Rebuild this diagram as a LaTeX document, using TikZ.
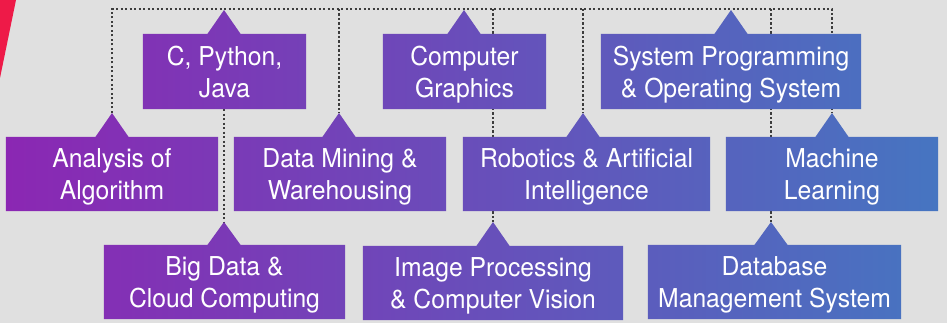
\documentclass[tikz,border=0pt]{standalone}
\usepackage{fontspec}
\setmainfont{TeX Gyre Heros}[FakeStretch=0.95]
\usetikzlibrary{calc}
\definecolor{bggray}{HTML}{E0E0E0}
\definecolor{accred}{HTML}{EE1A48}
\definecolor{dotgray}{HTML}{3C3C3C}
\definecolor{gl}{HTML}{8B27B3}
\definecolor{gr}{HTML}{4675C1}
\pgfdeclarelayer{back}
\pgfdeclarelayer{mid}
\pgfsetlayers{back,mid,main}
\begin{document}
\begin{tikzpicture}[x=1pt,y=-1pt,
  box/.style={rectangle, inner sep=0pt, text=white, align=center,
    font=\fontsize{26}{32}\selectfont, text depth=0pt},
  conn/.style={draw=dotgray, line width=2.3pt, dash pattern=on 2.3pt off 2.2pt}]
\useasboundingbox (0,0) rectangle (947,323);
% boxes
\node[box, minimum width=163pt, minimum height=75pt] (cpj) at (224.5,71.5) {C, Python,\\Java};
\node[box, minimum width=163pt, minimum height=75pt] (cg) at (464.5,71.5) {Computer\\Graphics};
\node[box, minimum width=260pt, minimum height=75pt] (sp) at (731,71.5) {System Programming\\\& Operating System};
\node[box, minimum width=212pt, minimum height=74pt] (aa) at (112,174) {Analysis of\\Algorithm};
\node[box, minimum width=212pt, minimum height=74pt] (dm) at (340,174) {Data Mining \&\\Warehousing};
\node[box, minimum width=247pt, minimum height=74pt] (ra) at (586.5,174) {Robotics \& Artificial\\Intelligence};
\node[box, minimum width=212pt, minimum height=74pt] (ml) at (832,174) {Machine\\Learning};
\node[box, minimum width=241pt, minimum height=74pt] (bd) at (224.5,282) {Big Data \&\\Cloud Computing};
\node[box, minimum width=260pt, minimum height=74pt] (ip) at (493,283) {Image Processing\\\& Computer Vision};
\node[box, minimum width=253pt, minimum height=74pt] (db) at (774.5,282) {Database\\Management System};
% apex points of the pointers
\coordinate (cpj-t) at (224,10);
\coordinate (cg-t) at (464,10);
\coordinate (sp-t) at (731,10);
\coordinate (aa-t) at (112,113);
\coordinate (dm-t) at (339,113);
\coordinate (ra-t) at (583,113);
\coordinate (ml-t) at (832,113);
\coordinate (bd-t) at (224,222);
\coordinate (ip-t) at (493,222);
\coordinate (db-t) at (771,222);
\coordinate (top) at (0,9);
\begin{pgfonlayer}{back}
\fill[bggray] (0,0) rectangle (947,323);
\fill[accred] (0,0) -- (16,0) -- (0,78) -- cycle;
\draw[conn] (aa-t) -- (aa-t |- top) -- (ml-t |- top) -- (ml-t);
\draw[conn] (dm-t |- top) -- (dm-t);
\draw[conn] (ra-t |- top) -- (ra-t);
\draw[conn] (ip-t |- top) -- (ip-t);
\draw[conn] (db-t |- top) -- (db-t);
\draw[conn] (cpj.south -| bd-t) -- (bd-t);
\end{pgfonlayer}
\begin{pgfonlayer}{mid}
\shade[left color=gl, right color=gr]
  \foreach \n in {cpj,cg,sp,aa,dm,ra,ml,bd,ip,db} {
    (\n.south west) -- (\n.south east) -- (\n.north east)
    -- ($(\n-t |- \n.north)+(16.5,0)$) -- (\n-t)
    -- ($(\n-t |- \n.north)+(-16.5,0)$) -- (\n.north west) -- cycle
  };
\end{pgfonlayer}
\end{tikzpicture}
\end{document}
